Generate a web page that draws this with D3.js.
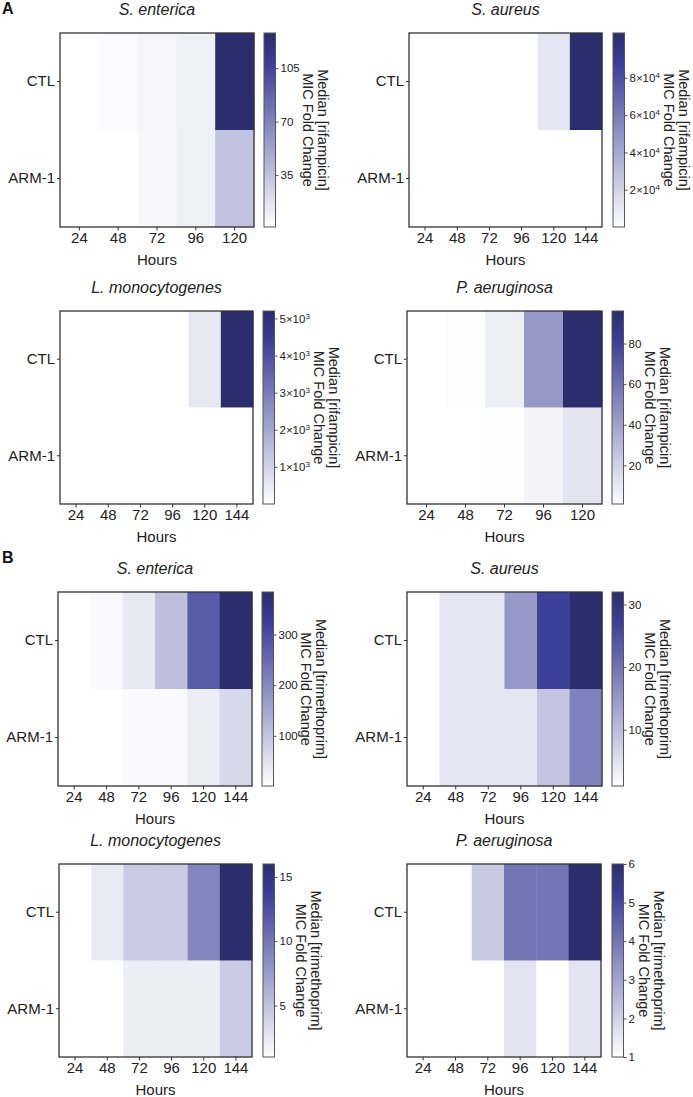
<!DOCTYPE html>
<html><head><meta charset="utf-8">
<script src="https://cdn.jsdelivr.net/npm/d3@7"></script>
<style>
html,body{margin:0;padding:0;background:#fff;}
svg{display:block;font-family:"Liberation Sans",Arial,Helvetica,sans-serif;}
</style></head>
<body>
<svg id="chart" width="693" height="1097"></svg>
<script>
// ---------- data ----------
const rows = ["CTL", "ARM-1"];
const hours5 = [24, 48, 72, 96, 120];
const hours6 = [24, 48, 72, 96, 120, 144];

// Panel A: rifampicin
const seRifCTL = [1, 3.2, 6, 10, 128];
const seRifARM = [1, 1, 5, 10, 35];
const seRifDomain = [1, 128];
const seRifTicks = [35, 70, 105];

const saRifCTL = [1, 1, 1, 1, 11400, 104000];
const saRifARM = [1, 1, 1, 1, 1, 1];
const saRifDomain = [1, 104000];
const saRifTicks = [20000, 40000, 60000, 80000];

const lmRifCTL = [1, 1, 1, 1, 520, 5200];
const lmRifARM = [1, 1, 1, 1, 1, 1];
const lmRifDomain = [1, 5200];
const lmRifTicks = [1000, 2000, 3000, 4000, 5000];

const paRifCTL = [1, 1.8, 8, 44, 96];
const paRifARM = [1, 1, 1.5, 6, 12];
const paRifDomain = [1, 96];
const paRifTicks = [20, 40, 60, 80];

// Panel B: trimethoprim
const seTmpCTL = [1, 11, 39, 108, 277, 384];
const seTmpARM = [1, 1, 9, 9, 33, 67];
const seTmpDomain = [1, 384];
const seTmpTicks = [100, 200, 300];

const saTmpCTL = [1, 4.4, 4.4, 15, 27, 32];
const saTmpARM = [1, 4.4, 4.4, 4.4, 9, 18];
const saTmpDomain = [1, 32];
const saTmpTicks = [10, 20, 30];

const lmTmpCTL = [1, 2.4, 4.5, 4.5, 9, 16];
const lmTmpARM = [1, 1, 2.2, 2.2, 2.2, 4.5];
const lmTmpDomain = [1, 16];
const lmTmpTicks = [5, 10, 15];

const paTmpCTL = [1, 1, 2.2, 4, 4, 6];
const paTmpARM = [1, 1, 1, 1.6, 1, 1.6];
const paTmpDomain = [1, 6];
const paTmpTicks = [1, 2, 3, 4, 5, 6];

// ---------- layout ----------
const panels = [
  {title:"S. enterica", drug:"rifampicin", hours:hours5, ctl:seRifCTL, arm:seRifARM, domain:seRifDomain, ticks:seRifTicks, sci:false, L:60, T:33, W:194, H:194, cb:264},
  {title:"S. aureus", drug:"rifampicin", hours:hours6, ctl:saRifCTL, arm:saRifARM, domain:saRifDomain, ticks:saRifTicks, sci:true, L:409, T:33, W:193, H:194, cb:613},
  {title:"L. monocytogenes", drug:"rifampicin", hours:hours6, ctl:lmRifCTL, arm:lmRifARM, domain:lmRifDomain, ticks:lmRifTicks, sci:true, L:60, T:311, W:193, H:193, cb:263},
  {title:"P. aeruginosa", drug:"rifampicin", hours:hours5, ctl:paRifCTL, arm:paRifARM, domain:paRifDomain, ticks:paRifTicks, sci:false, L:407, T:311, W:195, H:193, cb:612},
  {title:"S. enterica", drug:"trimethoprim", hours:hours6, ctl:seTmpCTL, arm:seTmpARM, domain:seTmpDomain, ticks:seTmpTicks, sci:false, L:58, T:592, W:194, H:194, cb:262},
  {title:"S. aureus", drug:"trimethoprim", hours:hours6, ctl:saTmpCTL, arm:saTmpARM, domain:saTmpDomain, ticks:saTmpTicks, sci:false, L:407, T:592, W:195, H:194, cb:612},
  {title:"L. monocytogenes", drug:"trimethoprim", hours:hours6, ctl:lmTmpCTL, arm:lmTmpARM, domain:lmTmpDomain, ticks:lmTmpTicks, sci:false, L:59, T:864, W:193, H:193, cb:263},
  {title:"P. aeruginosa", drug:"trimethoprim", hours:hours6, ctl:paTmpCTL, arm:paTmpARM, domain:paTmpDomain, ticks:paTmpTicks, sci:false, L:407, T:864, W:194, H:193, cb:612}
];
const cbW = 11.5;

const cmap = d3.scaleLinear().domain([0, 0.85, 1])
  .range(["#ffffff", "#3a3d98", "#2b2d6c"]).interpolate(d3.interpolateRgb);

const svg = d3.select("#chart");
const defs = svg.append("defs");
const textCol = "#222";

// panel letters
svg.append("text").attr("x", 2).attr("y", 14).attr("font-weight", "bold").attr("font-size", 16).attr("fill", "#111").text("A");
svg.append("text").attr("x", 2).attr("y", 563).attr("font-weight", "bold").attr("font-size", 16).attr("fill", "#111").text("B");

function sciLabel(sel, v) {
  const e = Math.floor(Math.log10(v));
  const m = Math.round(v / Math.pow(10, e));
  sel.text(null);
  sel.append("tspan").text(m + "\u00d710");
  sel.append("tspan").attr("dy", "-0.5em").attr("font-size", "8px").text(e);
}

panels.forEach((p, pi) => {
  const g = svg.append("g");
  const x = d3.scaleBand().domain(p.hours).range([p.L, p.L + p.W]);
  const y = d3.scaleBand().domain(rows).range([p.T, p.T + p.H]);
  const color = d3.scaleSequential(cmap).domain(p.domain);

  const cells = p.hours.flatMap((h, i) => [
    {row: "CTL", h, v: p.ctl[i]},
    {row: "ARM-1", h, v: p.arm[i]}
  ]);
  g.selectAll("rect.cell").data(cells).join("rect")
    .attr("class", "cell")
    .attr("x", d => x(d.h)).attr("y", d => y(d.row))
    .attr("width", x.bandwidth() + 0.4).attr("height", y.bandwidth() + 0.4)
    .attr("fill", d => color(d.v));

  // frame
  g.append("rect").attr("x", p.L).attr("y", p.T).attr("width", p.W).attr("height", p.H)
    .attr("fill", "none").attr("stroke", "#333").attr("stroke-width", 1.3);

  // axes
  const xa = g.append("g").attr("transform", `translate(0,${p.T + p.H})`)
    .call(d3.axisBottom(x).tickSize(3.5).tickSizeOuter(0).tickPadding(2));
  xa.select(".domain").remove();
  xa.selectAll("line").attr("stroke", "#333");
  xa.selectAll("text").attr("font-size", 15).attr("fill", textCol).attr("font-family", null);

  const ya = g.append("g").attr("transform", `translate(${p.L},0)`)
    .call(d3.axisLeft(y).tickSize(3).tickSizeOuter(0).tickPadding(2));
  ya.select(".domain").remove();
  ya.selectAll("line").attr("stroke", "#333");
  ya.selectAll("text").attr("font-size", 15).attr("fill", textCol).attr("font-family", null);

  g.append("text").attr("x", p.L + p.W / 2).attr("y", p.T + p.H + 38)
    .attr("text-anchor", "middle").attr("font-size", 15).attr("fill", textCol).text("Hours");

  g.append("text").attr("x", p.L + p.W / 2).attr("y", p.T - 18.5)
    .attr("text-anchor", "middle").attr("font-size", 16).attr("font-style", "italic")
    .attr("fill", textCol).text(p.title);

  // colorbar
  const gid = "grad" + pi;
  const grad = defs.append("linearGradient").attr("id", gid)
    .attr("x1", 0).attr("y1", 1).attr("x2", 0).attr("y2", 0);
  grad.selectAll("stop").data(d3.range(0, 1.0001, 0.02)).join("stop")
    .attr("offset", t => t).attr("stop-color", t => cmap(t));
  g.append("rect").attr("x", p.cb).attr("y", p.T).attr("width", cbW).attr("height", p.H)
    .attr("fill", `url(#${gid})`).attr("stroke", "#555").attr("stroke-width", 1);

  const cy = d3.scaleLinear().domain(p.domain).range([p.T + p.H, p.T]);
  const ca = g.append("g").attr("transform", `translate(${p.cb + cbW},0)`)
    .call(d3.axisRight(cy).tickValues(p.ticks).tickFormat(d3.format("~g"))
      .tickSize(3).tickSizeOuter(0).tickPadding(2));
  ca.select(".domain").remove();
  ca.selectAll("line").attr("stroke", "#555");
  ca.selectAll("text").attr("font-size", 11.5).attr("fill", textCol).attr("font-family", null);
  if (p.sci) ca.selectAll(".tick text").each(function(d) { sciLabel(d3.select(this), d); });

  const bb = ca.node().getBBox();
  const right = p.cb + cbW + bb.x + bb.width;
  const ymid = p.T + p.H / 2;
  const x2 = right + 8.5, x1 = x2 + 15;
  g.append("text").attr("transform", `translate(${x1},${ymid}) rotate(90)`)
    .attr("text-anchor", "middle").attr("dominant-baseline", "central")
    .attr("font-size", 14.5).attr("fill", textCol).text(`Median [${p.drug}]`);
  g.append("text").attr("transform", `translate(${x2},${ymid}) rotate(90)`)
    .attr("text-anchor", "middle").attr("dominant-baseline", "central")
    .attr("font-size", 14.5).attr("fill", textCol).text("MIC Fold Change");
});
</script>
</body></html>
